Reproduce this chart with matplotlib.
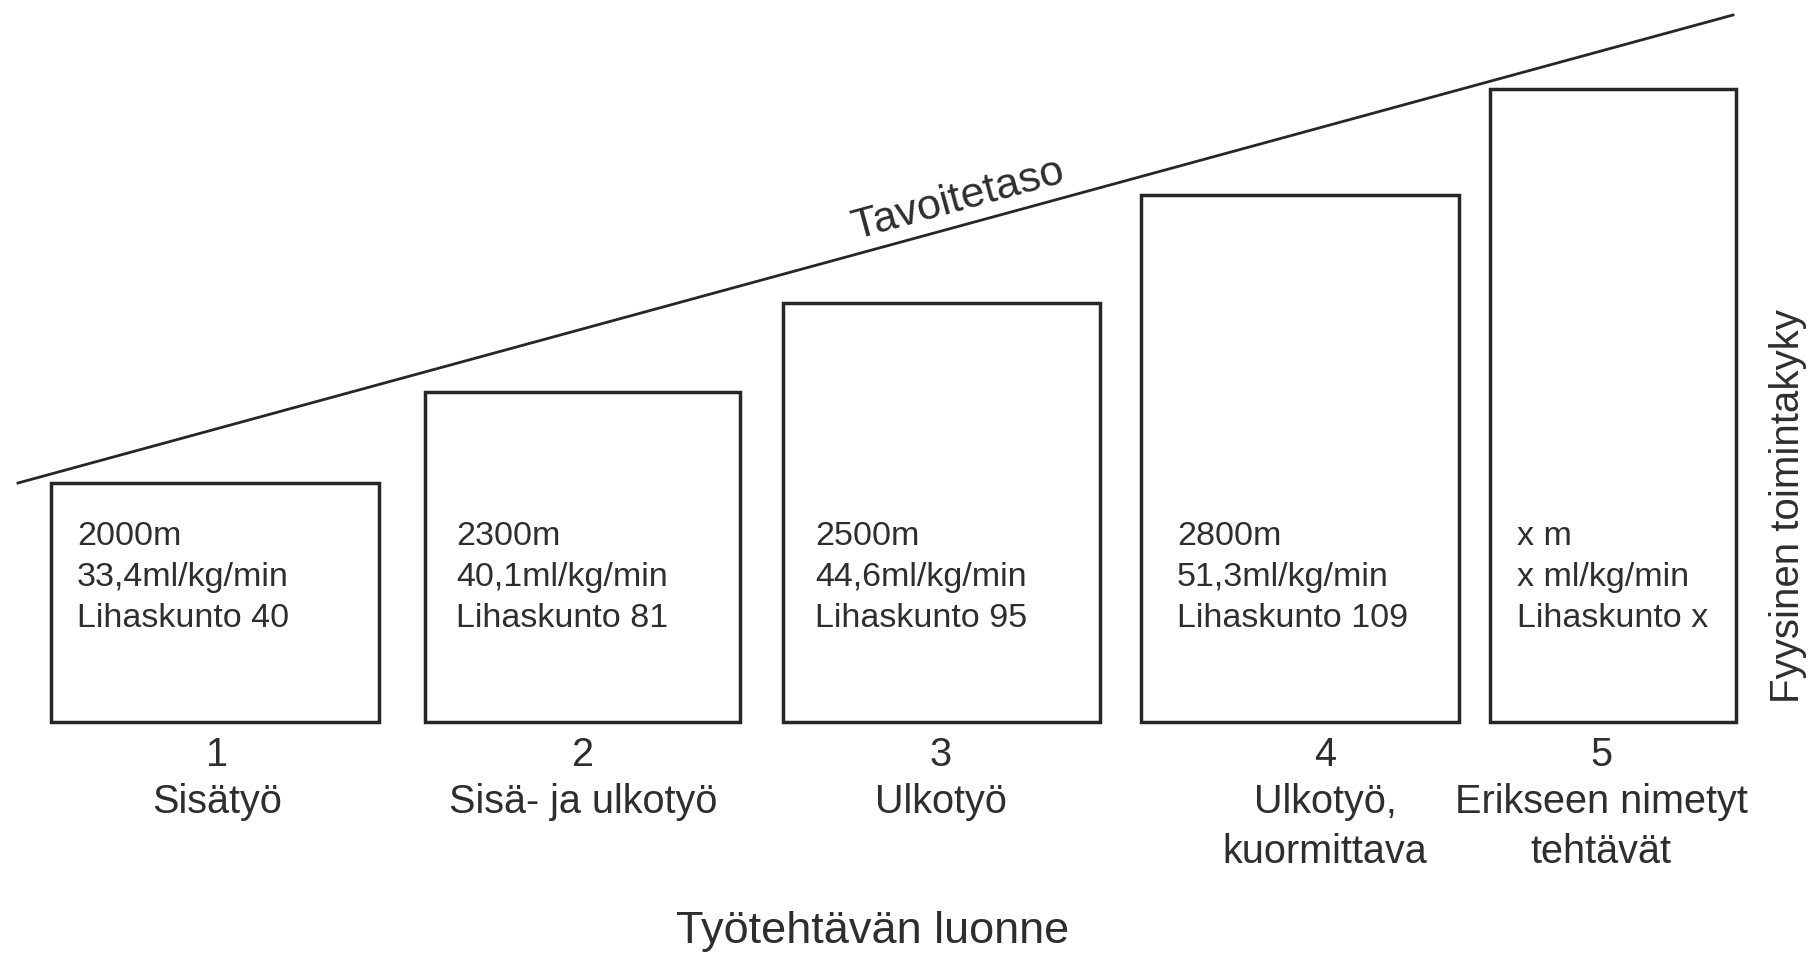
import numpy as np
import matplotlib
matplotlib.use("Agg")
import matplotlib.pyplot as plt

plt.rcParams['font.family'] = ['Liberation Sans', 'DejaVu Sans']

# data
levels = ['1', '2', '3', '4', '5']
tasks = ['Sisätyö', 'Sisä- ja ulkotyö', 'Ulkotyö', 'Ulkotyö,\nkuormittava',
         'Erikseen nimetyt\ntehtävät']
distance = ['2000m', '2300m', '2500m', '2800m', 'x m']
vo2 = ['33,4ml/kg/min', '40,1ml/kg/min', '44,6ml/kg/min', '51,3ml/kg/min', 'x ml/kg/min']
muscle = ['Lihaskunto 40', 'Lihaskunto 81', 'Lihaskunto 95', 'Lihaskunto 109', 'Lihaskunto x']
fitness = [239, 330, 419, 527, 633]   # box height ~ required fitness

# layout (pixel units, y upward)
W, H = 1813, 956
base = H - 722
box_left = [51, 425, 783, 1141, 1490]
box_right = [379, 740, 1100, 1459, 1736]
text_x = [77, 456, 815, 1177, 1517]
label_x = [217, 583, 941, 1325, 1601]
line_color = '#262626'
text_color = '#2e2e2e'

fig = plt.figure(figsize=(W / 100, H / 100), dpi=100)
ax = fig.add_axes([0, 0, 1, 1])
ax.set_xlim(0, W)
ax.set_ylim(0, H)
ax.axis('off')

left = np.array(box_left)
right = np.array(box_right)
ax.bar((left + right) / 2, fitness, width=right - left, bottom=base,
       fill=False, edgecolor=line_color, linewidth=2.5)

# target level line
ax.plot([18, 1733], [H - 483, H - 15], color=line_color, linewidth=2.0)
ang = np.degrees(np.arctan2(483 - 15, 1733 - 18))
ax.text(958, H - 200, 'Tavoitetaso', rotation=ang, rotation_mode='anchor',
        ha='center', va='center', fontsize=31, color=text_color)

for i in range(len(levels)):
    tx = text_x[i]
    ax.text(tx, H - 545, distance[i], fontsize=24.5, color=text_color, va='baseline')
    ax.text(tx, H - 586, vo2[i], fontsize=24.5, color=text_color, va='baseline')
    ax.text(tx, H - 627, muscle[i], fontsize=24.5, color=text_color, va='baseline')
    ax.text(label_x[i], H - 766, levels[i], fontsize=28.5, color=text_color,
            ha='center', va='baseline')
    lines = tasks[i].split('\n')
    for j, s in enumerate(lines):
        ax.text(label_x[i], H - 813 - 50 * j, s, fontsize=28.5, color=text_color,
                ha='center', va='baseline')

ax.text(873, H - 943, 'Työtehtävän luonne', fontsize=32.5, color=text_color,
        ha='center', va='baseline')
ax.text(1788, H - 506, 'Fyysinen toimintakyky', rotation=90, fontsize=29,
        color=text_color, ha='center', va='center')

fig.savefig('out.png', dpi=100, facecolor='white')
